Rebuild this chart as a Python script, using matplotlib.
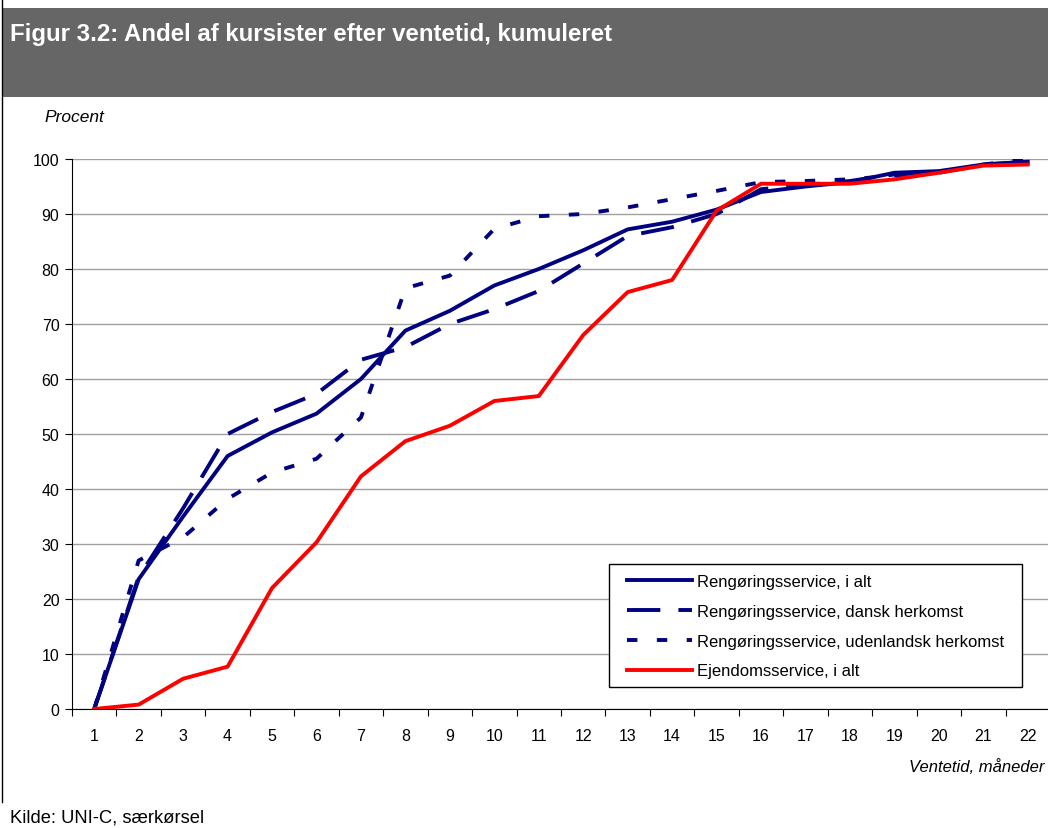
import matplotlib
matplotlib.use("Agg")
import matplotlib.pyplot as plt
from matplotlib.patches import Rectangle
from matplotlib.lines import Line2D

plt.rcParams['font.family'] = ['Liberation Sans', 'DejaVu Sans']
plt.rcParams['lines.scale_dashes'] = False

months = list(range(1, 23))
i_alt = [0, 23.6, 35, 46, 50.3, 53.7, 60, 68.8, 72.4, 77, 80, 83.4, 87.2, 88.6,
         90.8, 94, 95, 95.8, 97.5, 97.8, 99, 99.5]
dansk = [0, 24, 36.5, 50, 54, 57.3, 63.5, 65.8, 70, 72.7, 76, 81, 86, 87.6,
         90, 94.5, 95.3, 96, 97.2, 97.5, 99, 99.5]
udenlandsk = [0, 27, 31.2, 38.2, 43, 45.5, 53, 76.5, 78.8, 87.3, 89.6, 90, 91.2, 92.7,
              94.2, 95.8, 96, 96.3, 97, 97.5, 99, 100]
ejendom = [0, 0.8, 5.5, 7.7, 22, 30.3, 42.3, 48.7, 51.5, 56, 56.9, 68, 75.8, 78,
           90.6, 95.5, 95.5, 95.5, 96.3, 97.5, 98.8, 99]

labels = ["Rengøringsservice, i alt",
          "Rengøringsservice, dansk herkomst",
          "Rengøringsservice, udenlandsk herkomst",
          "Ejendomsservice, i alt"]
title = "Figur 3.2: Andel af kursister efter ventetid, kumuleret"

W, H = 1048, 829
fig = plt.figure(figsize=(W / 100, H / 100), dpi=100)

# header box
fig.patches.append(Rectangle((3 / W, 1 - 98 / H), 1 - 3 / W, 89 / H,
                             transform=fig.transFigure, facecolor='#666666',
                             edgecolor='none', zorder=0))
fig.text(10 / W, 1 - 34 / H, title, color='white', fontsize=17.3,
         fontweight='bold', va='center', ha='left')
# left border line
fig.add_artist(Line2D([2 / W, 2 / W], [1, 1 - 803 / H], transform=fig.transFigure,
                      color='black', lw=1))

ax = fig.add_axes([72 / W, (H - 710) / H, 978 / W, 550 / H])
navy = '#000080'
lw = 2.8
ax.plot(months, i_alt, color=navy, lw=lw, label=labels[0], zorder=3)
ax.plot(months, dansk, color=navy, lw=lw, dashes=(24, 13), label=labels[1], zorder=3)
ax.plot(months, udenlandsk, color=navy, lw=lw, dashes=(7.5, 14), label=labels[2], zorder=3)
ax.plot(months, ejendom, color='#ff0000', lw=lw, label=labels[3], zorder=4)

ax.set_xlim(0.5, 22.5)
ax.set_ylim(0, 100)
ax.set_yticks(range(0, 101, 10))
ax.grid(axis='y', color='#a0a0a0', lw=1)
ax.set_axisbelow(True)
for s in ['top', 'right']:
    ax.spines[s].set_visible(False)
ax.spines['left'].set_color('black')
ax.spines['bottom'].set_color('black')
ax.set_xticks([m + 0.5 for m in range(0, 23)])
ax.set_xticklabels([])
ax.set_xticks(months, minor=True)
ax.set_xticklabels([str(m) for m in months], minor=True, fontsize=11.5)
ax.tick_params(axis='x', which='major', length=5, direction='out')
ax.tick_params(axis='x', which='minor', length=0, pad=14)
ax.tick_params(axis='y', length=5, direction='out', pad=4, labelsize=11.5)

# legend frame drawn separately
frame = Rectangle((609 / W, 1 - 688 / H), 413 / W, 123 / H, transform=fig.transFigure,
                  facecolor='white', edgecolor='black', lw=1, zorder=5, clip_on=False)
ax.add_patch(frame)
leg = ax.legend(loc='upper left', bbox_to_anchor=(627 / W, 1 - 575 / H),
                bbox_transform=fig.transFigure, fontsize=12, frameon=False,
                handlelength=3.9, handletextpad=0.3, labelspacing=0.89,
                borderpad=0, borderaxespad=0)
leg.set_zorder(6)

fig.text(44 / W, 1 - 117 / H, "Procent", fontsize=12.5, style='italic', va='center')
fig.text(1044 / W, 1 - 767 / H, "Ventetid, måneder", fontsize=12, style='italic',
         va='center', ha='right')
fig.text(10 / W, 1 - 818 / H, "Kilde: UNI-C, særkørsel", fontsize=13.2, va='center')

fig.savefig("out.png", dpi=100)
